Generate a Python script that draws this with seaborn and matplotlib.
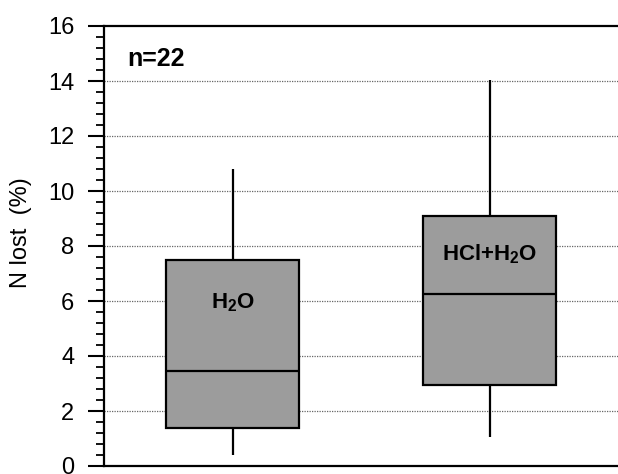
import numpy as np
import pandas as pd
import matplotlib
matplotlib.use("Agg")
import matplotlib.pyplot as plt
from matplotlib.ticker import MultipleLocator
import seaborn as sns

# Data (five-number summaries: min, Q1, median, Q3, max)
categories = ["H2O", "HCl+H2O"]
h2o_values = [0.4, 1.4, 3.45, 7.5, 10.8]
hcl_values = [1.05, 2.95, 6.27, 9.1, 14.05]
box_labels = ["H$_2$O", "HCl+H$_2$O"]
label_y = [5.95, 7.7]
y_ticks = [0, 2, 4, 6, 8, 10, 12, 14, 16]

sns.set_style("white")
plt.rcParams["font.family"] = ["Liberation Sans", "DejaVu Sans"]
plt.rcParams["mathtext.fontset"] = "custom"
plt.rcParams["mathtext.rm"] = "Liberation Sans:bold"
plt.rcParams["mathtext.default"] = "rm"
plt.rcParams["text.color"] = "black"
plt.rcParams["axes.labelcolor"] = "black"
plt.rcParams["ytick.color"] = "black"
plt.rcParams["xtick.color"] = "black"

df = pd.DataFrame({
    "treatment": [categories[0]] * len(h2o_values) + [categories[1]] * len(hcl_values),
    "N": h2o_values + hcl_values,
})

fig = plt.figure(figsize=(6.18, 4.74), dpi=100)
ax = fig.add_axes([104 / 618, 8 / 474, 1 - 104 / 618, (466 - 26) / 474])

for t in y_ticks[1:-1]:
    ax.axhline(t, color="#666666", linestyle=(0, (1, 1)), linewidth=0.9, zorder=0)

sns.boxplot(
    data=df, x="treatment", y="N", order=categories, ax=ax,
    whis=(0, 100), width=0.515, color="#9c9c9c", saturation=1,
    linecolor="black", linewidth=1.6, showcaps=False, zorder=2,
)

ax.set_xlim(-0.5, 1.5)
ax.set_ylim(0, 16)
ax.set_yticks(y_ticks)
ax.yaxis.set_minor_locator(MultipleLocator(0.4))
ax.set_xticks([])
ax.set_xlabel("")
ax.set_ylabel("N lost  (%)", fontsize=17, color="black")
ax.yaxis.set_label_coords(-0.14, 0.53)
ax.tick_params(axis="y", which="major", direction="out", length=11.5, width=1.5,
               labelsize=17, pad=10, left=True, color="black", labelcolor="black")
ax.tick_params(axis="y", which="minor", direction="out", length=5.8, width=1.3,
               left=True, color="black")

for side in ["left", "top", "bottom"]:
    ax.spines[side].set_visible(True)
    ax.spines[side].set_color("black")
    ax.spines[side].set_linewidth(1.6)
ax.spines["right"].set_visible(False)

for i, (lab, yy) in enumerate(zip(box_labels, label_y)):
    ax.text(i, yy, lab, ha="center", va="center", fontsize=16, fontweight="bold",
            color="black", zorder=5)

ax.text(0.045, 0.925, "n=22", transform=ax.transAxes, ha="left", va="center",
        fontsize=18, fontweight="bold", color="black")

fig.savefig("out.png", dpi=100)
